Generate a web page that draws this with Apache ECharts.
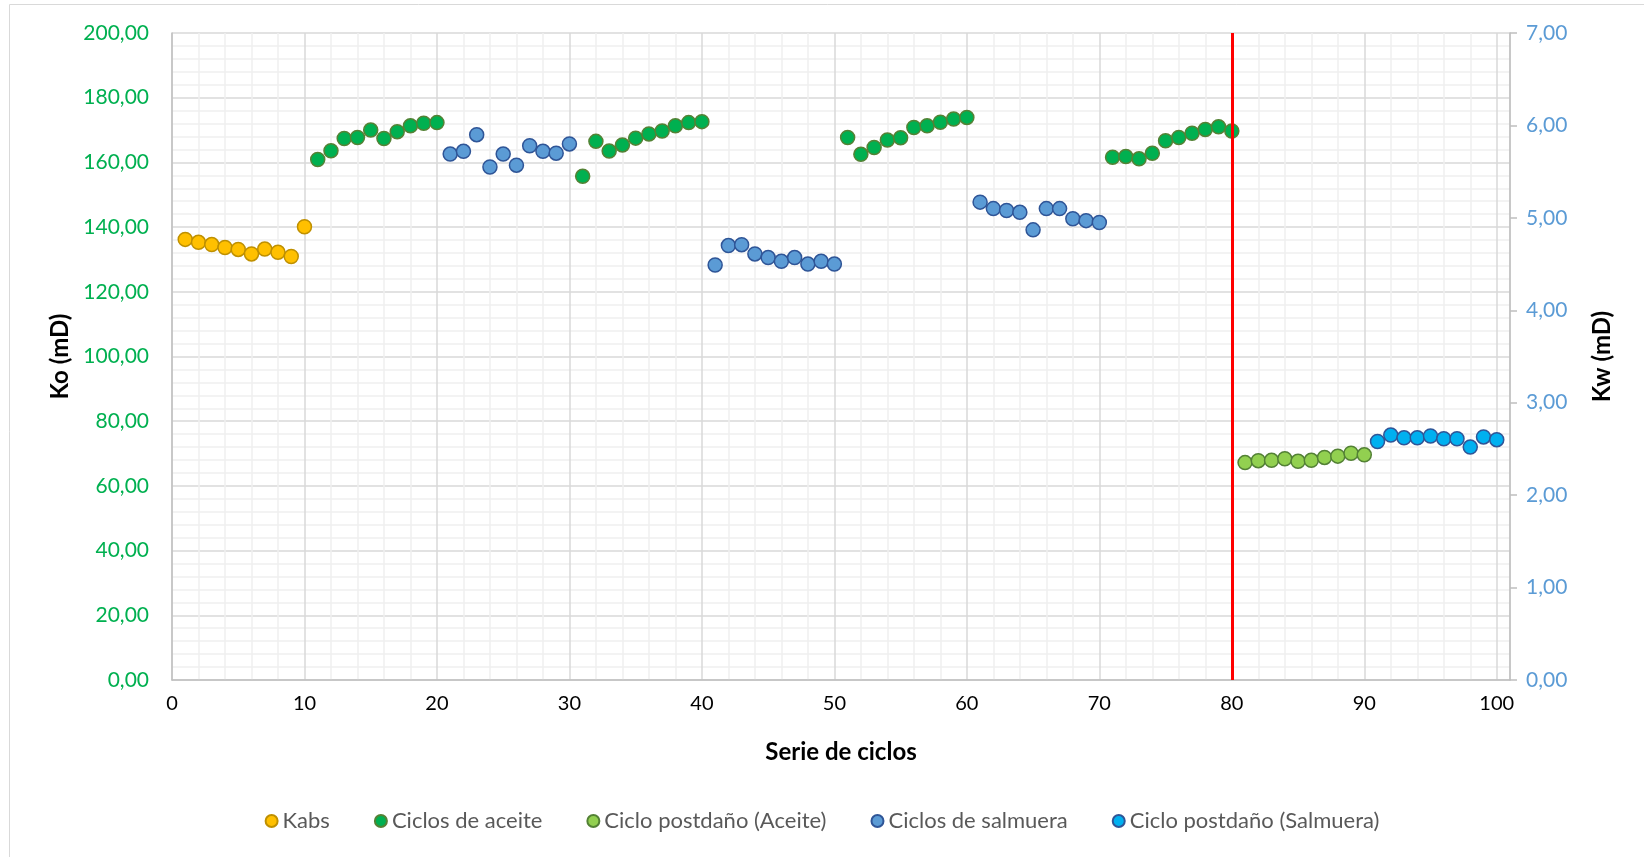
<!DOCTYPE html>
<html>
<head>
<meta charset="utf-8">
<script src="https://cdn.jsdelivr.net/npm/echarts@6/dist/echarts.min.js"></script>
<style>
  html, body { margin: 0; padding: 0; background: #fff; }
  #main { width: 1644px; height: 857px; }
</style>
</head>
<body>
<div id="main"></div>
<script>
// ciclos y permeabilidades
const kabsX = [1, 2, 3, 4, 5, 6, 7, 8, 9, 10];
const kabsKo = [136.2, 135.3, 134.6, 133.7, 133.1, 131.7, 133.2, 132.2, 130.9, 140.1];

const aceiteX = [11, 12, 13, 14, 15, 16, 17, 18, 19, 20,
  31, 32, 33, 34, 35, 36, 37, 38, 39, 40,
  51, 52, 53, 54, 55, 56, 57, 58, 59, 60,
  71, 72, 73, 74, 75, 76, 77, 78, 79, 80];
const aceiteKo = [160.9, 163.6, 167.4, 167.7, 170.0, 167.4, 169.5, 171.3, 172.1, 172.3,
  155.7, 166.5, 163.5, 165.4, 167.5, 168.8, 169.7, 171.3, 172.3, 172.6,
  167.7, 162.5, 164.6, 166.9, 167.6, 170.8, 171.3, 172.4, 173.4, 173.9,
  161.6, 161.8, 161.1, 162.8, 166.7, 167.7, 169.0, 170.2, 171.0, 169.7];

const postAceiteX = [81, 82, 83, 84, 85, 86, 87, 88, 89, 90];
const postAceiteKo = [67.2, 67.8, 67.9, 68.4, 67.6, 67.9, 68.8, 69.2, 70.1, 69.6];

const salmueraX = [21, 22, 23, 24, 25, 26, 27, 28, 29, 30,
  41, 42, 43, 44, 45, 46, 47, 48, 49, 50,
  61, 62, 63, 64, 65, 66, 67, 68, 69, 70];
const salmueraKw = [5.69, 5.72, 5.90, 5.55, 5.69, 5.57, 5.78, 5.72, 5.70, 5.80,
  4.49, 4.70, 4.71, 4.61, 4.57, 4.53, 4.57, 4.50, 4.53, 4.50,
  5.17, 5.10, 5.08, 5.06, 4.87, 5.10, 5.10, 4.99, 4.97, 4.95];

const postSalmueraX = [91, 92, 93, 94, 95, 96, 97, 98, 99, 100];
const postSalmueraKw = [2.58, 2.65, 2.62, 2.62, 2.64, 2.61, 2.61, 2.52, 2.63, 2.60];

const corteCiclo = 80;

const pair = (xs, ys) => xs.map((x, i) => [x, ys[i]]);
const fmt = v => v.toFixed(2).replace('.', ',');
const font = 'Lato, "Open Sans", sans-serif';

const chart = echarts.init(document.getElementById('main'));

function scatter(name, data, fill, border, axis) {
  return {
    name: name,
    type: 'scatter',
    yAxisIndex: axis,
    data: data,
    symbol: 'circle',
    symbolSize: 14,
    itemStyle: { color: fill, borderColor: border, borderWidth: 1.5, opacity: 1 }
  };
}

const series = [
  scatter('Kabs', pair(kabsX, kabsKo), '#FFC000', '#BF9000', 0),
  scatter('Ciclos de aceite', pair(aceiteX, aceiteKo), '#00B050', '#548235', 0),
  scatter('Ciclo postdaño (Aceite)', pair(postAceiteX, postAceiteKo), '#92D050', '#538135', 0),
  scatter('Ciclos de salmuera', pair(salmueraX, salmueraKw), '#5B9BD5', '#2F5597', 1),
  scatter('Ciclo postdaño (Salmuera)', pair(postSalmueraX, postSalmueraKw), '#00B0F0', '#2F5597', 1)
];
series[1].markLine = {
  silent: true,
  symbol: 'none',
  label: { show: false },
  lineStyle: { color: '#FF0000', width: 3, type: 'solid' },
  data: [{ xAxis: corteCiclo }],
  z: 10
};

chart.setOption({
  animation: false,
  textStyle: { fontFamily: font },
  graphic: [{
    type: 'rect',
    shape: { x: 9.5, y: 4.5, width: 1660, height: 880 },
    style: { fill: 'none', stroke: '#D9D9D9', lineWidth: 1 },
    silent: true
  }],
  grid: { left: 172, right: 134, top: 33, bottom: 177 },
  legend: {
    bottom: 20,
    left: 'center',
    icon: 'circle',
    itemWidth: 12,
    itemHeight: 12,
    itemGap: 44,
    textStyle: { color: '#595959', fontSize: 22, fontFamily: font }
  },
  xAxis: {
    type: 'value',
    min: 0,
    max: 101,
    interval: 10,
    name: 'Serie de ciclos',
    nameLocation: 'middle',
    nameGap: 60,
    nameTextStyle: { fontSize: 24, fontWeight: 'bold', color: '#000' },
    axisLine: { show: true, lineStyle: { color: '#BFBFBF', width: 1.5 } },
    axisTick: { show: false },
    axisLabel: {
      fontSize: 20, color: '#000', margin: 14,
      formatter: v => (v % 10 === 0 ? String(v) : '')
    },
    splitLine: { show: true, lineStyle: { color: '#D9D9D9', width: 1.5 } },
    minorTick: { show: false, splitNumber: 5 },
    minorSplitLine: { show: true, lineStyle: { color: '#F0F0F0', width: 1.5 } }
  },
  yAxis: [{
    type: 'value',
    min: 0,
    max: 200,
    interval: 20,
    name: 'Ko (mD)',
    nameLocation: 'middle',
    nameGap: 98,
    nameTextStyle: { fontSize: 24, fontWeight: 'bold', color: '#000' },
    axisLine: { show: true, lineStyle: { color: '#BFBFBF', width: 1.5 } },
    axisTick: { show: false },
    axisLabel: { fontSize: 21, color: '#00B050', margin: 23, formatter: fmt },
    splitLine: { show: true, lineStyle: { color: '#D9D9D9', width: 1.5 } },
    minorTick: { show: false, splitNumber: 5 },
    minorSplitLine: { show: true, lineStyle: { color: '#F0F0F0', width: 1.5 } }
  }, {
    type: 'value',
    min: 0,
    max: 7,
    interval: 1,
    position: 'right',
    name: 'Kw (mD)',
    nameLocation: 'middle',
    nameGap: 80,
    nameTextStyle: { fontSize: 24, fontWeight: 'bold', color: '#000' },
    axisLine: { show: true, lineStyle: { color: '#BFBFBF', width: 1.5 } },
    axisTick: { show: true, inside: false, length: 7, lineStyle: { color: '#BFBFBF', width: 1.5 } },
    axisLabel: { fontSize: 21, color: '#5B9BD5', margin: 16, formatter: fmt },
    splitLine: { show: false }
  }],
  series: series
});
</script>
</body>
</html>
